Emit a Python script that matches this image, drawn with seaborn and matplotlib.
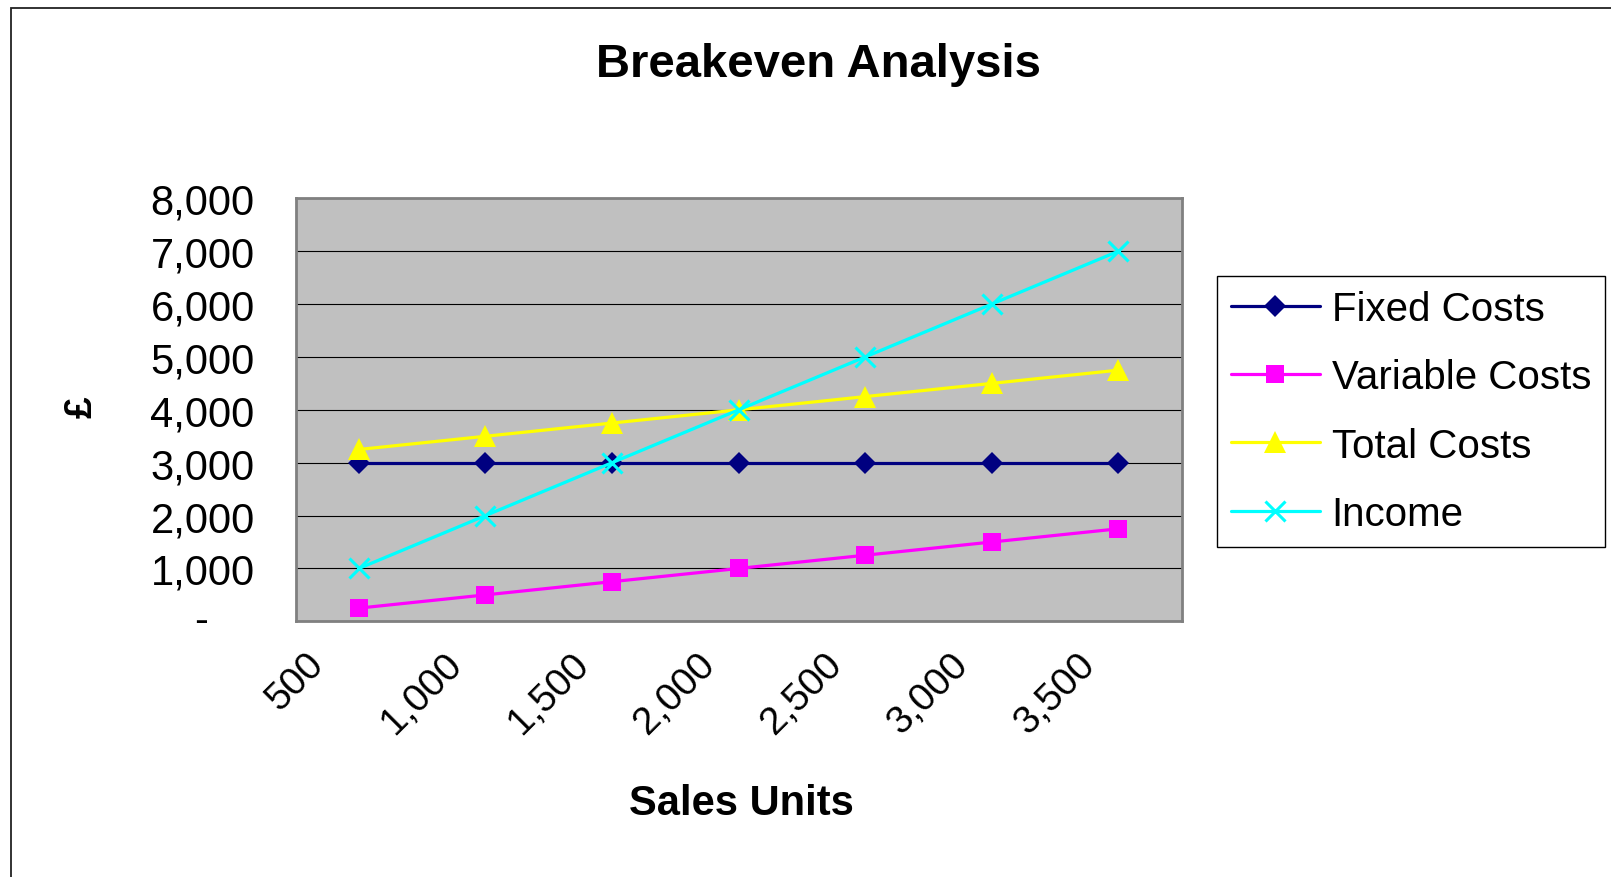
import numpy as np
import seaborn as sns
import matplotlib.pyplot as plt
from matplotlib.patches import Rectangle

# data
units = [500, 1000, 1500, 2000, 2500, 3000, 3500]
fixed_costs = [3000, 3000, 3000, 3000, 3000, 3000, 3000]
variable_costs = [250, 500, 750, 1000, 1250, 1500, 1750]
total_costs = [3250, 3500, 3750, 4000, 4250, 4500, 4750]
income = [1000, 2000, 3000, 4000, 5000, 6000, 7000]
y_ticks = [0, 1000, 2000, 3000, 4000, 5000, 6000, 7000, 8000]

sns.set_style("white")
plt.rcParams["font.family"] = ["Liberation Sans", "DejaVu Sans"]
plt.rcParams["text.color"] = "black"
plt.rcParams["axes.labelcolor"] = "black"
plt.rcParams["xtick.color"] = "black"
plt.rcParams["ytick.color"] = "black"

fig = plt.figure(figsize=(16.11, 8.78), dpi=100)
ax = fig.add_axes([0.1835, 0.2912, 0.55, 0.4818])
ax.set_facecolor("#C0C0C0")

pos = np.arange(len(units))
series = [
    ("Fixed Costs", fixed_costs, "#000080", "D", 11),
    ("Variable Costs", variable_costs, "#FF00FF", "s", 13.5),
    ("Total Costs", total_costs, "#FFFF00", "^", 15.5),
    ("Income", income, "#00FFFF", "x", 15),
]
for name, vals, col, mk, ms in series:
    sns.lineplot(x=pos, y=vals, ax=ax, color=col, marker=mk, markersize=ms,
                 markeredgewidth=2.2 if mk == "x" else 0, markeredgecolor=col,
                 linewidth=2.3, label=name)

# axes
ax.set_xlim(-0.5, len(units) - 0.5)
ax.set_ylim(0, 8000)
ax.set_xticks(np.arange(len(units) + 1) - 0.5)
ax.set_xticklabels([f"{u:,}" for u in units] + [""], rotation=45, ha="center", fontsize=28)
ax.set_yticks(y_ticks)
ax.set_yticklabels(["" if v == 0 else f"{v:,}" for v in y_ticks], fontsize=30)
ax.text(-0.107, y_ticks[0], "-", transform=ax.get_yaxis_transform(),
        ha="center", va="center", fontsize=30)

ax.yaxis.grid(True, color="black", linewidth=0.8)
ax.xaxis.grid(False)
ax.set_axisbelow(True)
ax.tick_params(axis="both", direction="out", length=9.5, width=0.8, color="black")
ax.tick_params(axis="y", pad=20)
ax.tick_params(axis="x", pad=8)
for s in ax.spines.values():
    s.set_color("#808080")
    s.set_linewidth(2)

ax.set_xlabel("Sales Units", fontsize=30, fontweight="bold")
ax.xaxis.set_label_coords(0.503, -0.4556)
ax.xaxis.label.set_va("baseline")
ax.set_ylabel("£", fontsize=28, fontweight="bold")
ax.yaxis.set_label_coords(-0.241, 0.509)
ax.yaxis.label.set_va("center")

fig.text(0.5078, 0.912, "Breakeven Analysis", ha="center", va="baseline",
         fontsize=34, fontweight="bold")

handles, labels = ax.get_legend_handles_labels()
leg = ax.legend(handles, labels, loc="upper left", bbox_to_anchor=(0.7554, 0.6845),
                bbox_transform=fig.transFigure, fontsize=29, frameon=True, fancybox=False,
                framealpha=1, edgecolor="black", borderpad=0.35, handlelength=2.2,
                handletextpad=0.3, labelspacing=0.75, borderaxespad=0)
leg.get_frame().set_linewidth(1)

# chart border (cut off at right and bottom)
fig.add_artist(Rectangle((10.7 / 1611, -0.05), 1.1, 1 - 8.8 / 878 + 0.05,
                         transform=fig.transFigure, fill=False,
                         edgecolor="#222222", linewidth=1.3))

fig.savefig("out.png", dpi=100)
